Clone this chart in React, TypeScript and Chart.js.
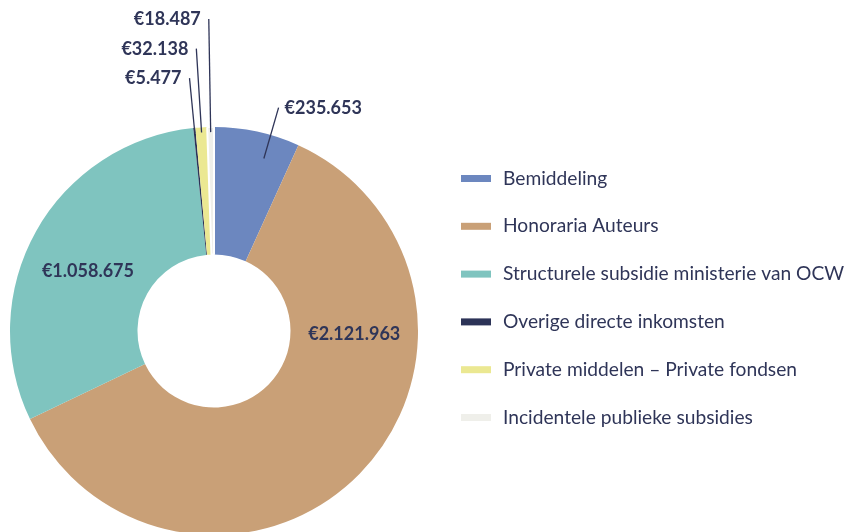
import React, { useEffect, useRef } from "react";
import { Chart, ArcElement, DoughnutController } from "chart.js";

Chart.register(ArcElement, DoughnutController);

// ---- data ----
const categories = [
  "Bemiddeling",
  "Honoraria Auteurs",
  "Structurele subsidie ministerie van OCW",
  "Overige directe inkomsten",
  "Private middelen – Private fondsen",
  "Incidentele publieke subsidies",
];
const amounts = [235653, 2121963, 1058675, 5477, 32138, 18487];

// ---- styles ----
const sliceColors = ["#6c87bf", "#c9a077", "#7fc4bf", "#2c3357", "#ebe892", "#efefea"];
const sliceBorders = [0, 0, 0, 0, 0, 2];
const labelAnglePos = [0.66, 0.3, 0.47, 0.5, 0.5, 0.5];
const TEXT = "#2f3558";
const FONT = "Lato, 'Noto Sans', sans-serif";

const fmt = (v: number) => "€" + String(v).replace(/\B(?=(\d{3})+(?!\d))/g, ".");

const sliceLabels = {
  id: "sliceLabels",
  afterDatasetsDraw(chart: any) {
    const meta = chart.getDatasetMeta(0);
    const ctx = chart.ctx as CanvasRenderingContext2D;
    const values = chart.data.datasets[0].data as number[];
    ctx.save();
    ctx.font = `bold 18px ${FONT}`;
    ctx.fillStyle = TEXT;
    ctx.strokeStyle = TEXT;
    ctx.lineWidth = 1.3;
    ctx.textBaseline = "middle";
    let prevY: number | null = null;
    meta.data.forEach((arc: any, i: number) => {
      const { x, y, startAngle, endAngle, innerRadius, outerRadius } = arc.getProps(
        ["x", "y", "startAngle", "endAngle", "innerRadius", "outerRadius"],
        true
      );
      const span = endAngle - startAngle;
      const a = startAngle + span * labelAnglePos[i];
      const text = fmt(values[i]);
      const cos = Math.cos(a);
      const sin = Math.sin(a);
      if (span > 1.0) {
        const r = (innerRadius + outerRadius) / 2;
        ctx.textAlign = "center";
        ctx.fillText(text, x + cos * r, y + sin * r + 2);
        return;
      }
      const r0 = outerRadius * (span > 0.17 ? 0.88 : 0.975);
      let r1 = outerRadius * 1.14;
      let ey = y + sin * r1;
      if (prevY !== null && ey > prevY - 29.5) {
        ey = prevY - 29.5;
        r1 = (ey - y) / sin;
      }
      const ex = x + cos * r1;
      ctx.beginPath();
      ctx.moveTo(x + cos * r0, y + sin * r0);
      ctx.lineTo(ex, ey);
      ctx.stroke();
      if (cos >= 0) {
        ctx.textAlign = "left";
        ctx.fillText(text, ex + 6, ey + 0.5);
      } else {
        ctx.textAlign = "right";
        ctx.fillText(text, ex - 8, ey + 0.5);
      }
      prevY = ey;
    });
    ctx.restore();
  },
};

const sideLegend = {
  id: "sideLegend",
  afterDraw(chart: any) {
    const ctx = chart.ctx as CanvasRenderingContext2D;
    const labels = chart.data.labels as string[];
    const bg = chart.data.datasets[0].backgroundColor as string[];
    const left = 453;
    const top = 170.5;
    const step = 47.8;
    ctx.save();
    ctx.font = `400 19.2px ${FONT}`;
    ctx.textBaseline = "middle";
    ctx.textAlign = "left";
    labels.forEach((t, i) => {
      const cy = top + i * step;
      ctx.fillStyle = bg[i];
      ctx.fillRect(left, cy - 3.5, 30, 7);
      ctx.fillStyle = TEXT;
      ctx.fillText(t, left + 42, cy);
    });
    ctx.restore();
  },
};

export default function App() {
  const ref = useRef<HTMLCanvasElement | null>(null);
  useEffect(() => {
    document.documentElement.style.overflow = "hidden";
    if (!ref.current) return;
    const chart = new Chart(ref.current, {
      type: "doughnut",
      data: {
        labels: categories,
        datasets: [
          {
            data: amounts,
            backgroundColor: sliceColors,
            borderColor: "#ffffff",
            borderWidth: sliceBorders,
            hoverOffset: 0,
          },
        ],
      },
      options: {
        animation: false,
        responsive: false,
        maintainAspectRatio: false,
        cutout: "37.5%",
        layout: { padding: { top: 118, left: 1, right: 428, bottom: 0 } },
        plugins: {
          legend: { display: false },
          tooltip: { enabled: false },
        } as any,
        events: [],
      },
      plugins: [sliceLabels, sideLegend],
    });
    (document as any).fonts?.ready?.then(() => chart.update());
    return () => chart.destroy();
  }, []);
  return (
    <div style={{ width: 839, height: 528 }}>
      <canvas ref={ref} width={839} height={528} style={{ display: "block", width: 839, height: 528 }} />
    </div>
  );
}
